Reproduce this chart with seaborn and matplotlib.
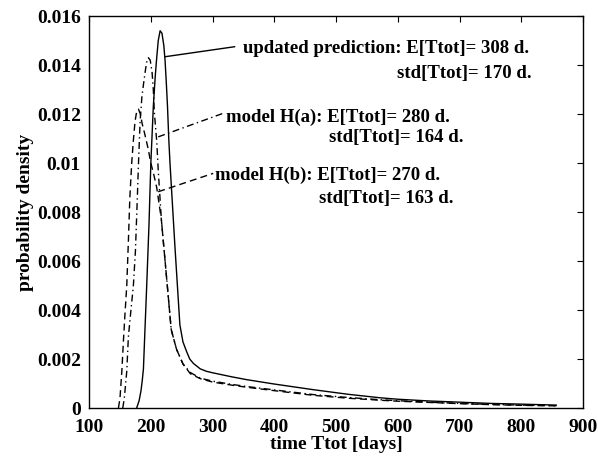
import numpy as np
import pandas as pd
import matplotlib
matplotlib.use("Agg")
import matplotlib.pyplot as plt
import seaborn as sns

# ---- data ----
upd_days = [177, 181, 184, 186, 188, 190, 193, 197, 200, 204, 207, 209.5, 212, 215, 218, 221,
            223, 225, 227, 229, 231, 235, 239, 243, 247, 252, 258, 263, 269, 280, 290, 300,
            330, 355, 400, 463, 520, 571, 600, 650, 700, 750, 800, 857]
upd_vals = [0, 0.0003, 0.0007, 0.0011, 0.0016, 0.0029, 0.0048, 0.0075, 0.0100, 0.0123, 0.0135,
            0.0143, 0.0150, 0.0154, 0.0153, 0.0148, 0.0142, 0.0133, 0.0123, 0.0110, 0.0100,
            0.0083, 0.0066, 0.0050, 0.0034, 0.0027, 0.0023, 0.0020, 0.00182, 0.00160, 0.00150,
            0.00144, 0.00128, 0.00116, 0.00098, 0.00075, 0.00056, 0.00042, 0.00036, 0.00029,
            0.00024, 0.00019, 0.00016, 0.00012]

ha_days = [154.5, 157, 161, 163.6, 167, 171.7, 175, 178, 180, 182.6, 185.5, 188, 190.7, 193, 196,
           199, 202, 204, 205.6, 207.5, 209.5, 212, 214.5, 217, 222, 227, 233, 241.6, 252, 264,
           280, 300, 330, 355, 400, 463, 520, 571, 600, 650, 700, 750, 800, 857]
ha_vals = [0, 0.0004, 0.0015, 0.0029, 0.0038, 0.0050, 0.0064, 0.0085, 0.0100, 0.0117, 0.0127,
           0.0132, 0.0137, 0.0141, 0.0143, 0.0142, 0.0137, 0.0130, 0.0121, 0.0115, 0.0109,
           0.0097, 0.0087, 0.0077, 0.0063, 0.0049, 0.0032, 0.0024, 0.0018, 0.00145, 0.00122,
           0.00110, 0.00097, 0.00088, 0.00074, 0.00055, 0.00043, 0.00034, 0.00030, 0.00024,
           0.00019, 0.00015, 0.00012, 0.00010]

hb_days = [147.5, 150, 153, 155.5, 158, 161, 163.6, 166, 169, 171.6, 174.4, 177, 180, 183, 186,
           190, 195.5, 200, 205, 209.5, 213, 217, 222, 227, 233, 241.6, 252, 264, 280, 300, 330,
           355, 400, 463, 520, 571, 600, 650, 700, 750, 800, 857]
hb_vals = [0, 0.0004, 0.0015, 0.0027, 0.0038, 0.0050, 0.0068, 0.0086, 0.0100, 0.0109, 0.0117,
           0.0121, 0.0122, 0.0120, 0.0116, 0.0112, 0.0106, 0.0100, 0.0095, 0.0090, 0.0084,
           0.0077, 0.0063, 0.0049, 0.0032, 0.0024, 0.0018, 0.0014, 0.00120, 0.00106, 0.00094,
           0.00085, 0.00071, 0.00052, 0.00040, 0.00032, 0.00028, 0.00023, 0.00018, 0.00014,
           0.00011, 0.00009]

x_ticks = [100, 200, 300, 400, 500, 600, 700, 800, 900]
y_ticks = [0, 0.002, 0.004, 0.006, 0.008, 0.01, 0.012, 0.014, 0.016]
y_tick_labels = ["0", "0.002", "0.004", "0.006", "0.008", "0.01", "0.012", "0.014", "0.016"]

labels_upd = ["updated prediction: E[Ttot]= 308 d.", "std[Ttot]= 170 d."]
labels_ha = ["model H(a): E[Ttot]= 280 d.", "std[Ttot]= 164 d."]
labels_hb = ["model H(b): E[Ttot]= 270 d.", "std[Ttot]= 163 d."]

# ---- styling ----
sns.set_style("white")
plt.rcParams["font.family"] = ["Liberation Serif", "DejaVu Serif"]
plt.rcParams["font.weight"] = "bold"
plt.rcParams["text.color"] = "black"
plt.rcParams["axes.labelcolor"] = "black"
plt.rcParams["xtick.color"] = "black"
plt.rcParams["ytick.color"] = "black"

fig = plt.figure(figsize=(5.98, 4.59), dpi=100)
ax = fig.add_axes([0.149, 0.111, 0.826, 0.854])

df_u = pd.DataFrame({"t": upd_days, "p": upd_vals})
df_a = pd.DataFrame({"t": ha_days, "p": ha_vals})
df_b = pd.DataFrame({"t": hb_days, "p": hb_vals})

lw = 1.0
dashdot = (0, (5, 2.5, 1, 2.5))
dashed = (0, (5, 3))
sns.lineplot(data=df_u, x="t", y="p", ax=ax, color="k", lw=lw, linestyle="-", estimator=None, sort=False)
sns.lineplot(data=df_a, x="t", y="p", ax=ax, color="k", lw=lw, linestyle=dashdot, estimator=None, sort=False)
sns.lineplot(data=df_b, x="t", y="p", ax=ax, color="k", lw=lw, linestyle=dashed, estimator=None, sort=False)

ax.set_xlim(100, 900)
ax.set_ylim(0, 0.016)
ax.set_xticks(x_ticks)
ax.set_xticklabels([str(v) for v in x_ticks])
ax.set_yticks(y_ticks)
ax.set_yticklabels(y_tick_labels)
ax.tick_params(direction="in", length=4, width=0.8, top=True, right=True, labelsize=14,
               colors="k", labelcolor="k")
ax.tick_params(axis="x", pad=8)
ax.tick_params(axis="y", pad=6)
for s in ax.spines.values():
    s.set_color("k")
    s.set_linewidth(1.0)
    s.set_visible(True)

ax.set_xlabel("time Ttot [days]", fontsize=14, fontweight="bold", labelpad=0, color="k")
ax.set_ylabel("probability density", fontsize=14, fontweight="bold", labelpad=2, color="k")

fs = 13.5
# leader lines
ax.plot([223, 336], [0.01434, 0.01475], color="k", lw=lw, ls="-")
ax.plot([212, 317], [0.01107, 0.01203], color="k", lw=lw, ls=dashdot)
ax.plot([212, 301], [0.00883, 0.00958], color="k", lw=lw, ls=dashed)

ax.text(349, 0.01469, labels_upd[0], fontsize=fs, fontweight="bold", ha="left", va="center", color="k")
ax.text(817, 0.01367, labels_upd[1], fontsize=fs, fontweight="bold", ha="right", va="center", color="k")
ax.text(322, 0.01188, labels_ha[0], fontsize=fs, fontweight="bold", ha="left", va="center", color="k")
ax.text(706, 0.01106, labels_ha[1], fontsize=fs, fontweight="bold", ha="right", va="center", color="k")
ax.text(304, 0.00951, labels_hb[0], fontsize=fs, fontweight="bold", ha="left", va="center", color="k")
ax.text(690, 0.00857, labels_hb[1], fontsize=fs, fontweight="bold", ha="right", va="center", color="k")

fig.savefig("out.png", dpi=100)
